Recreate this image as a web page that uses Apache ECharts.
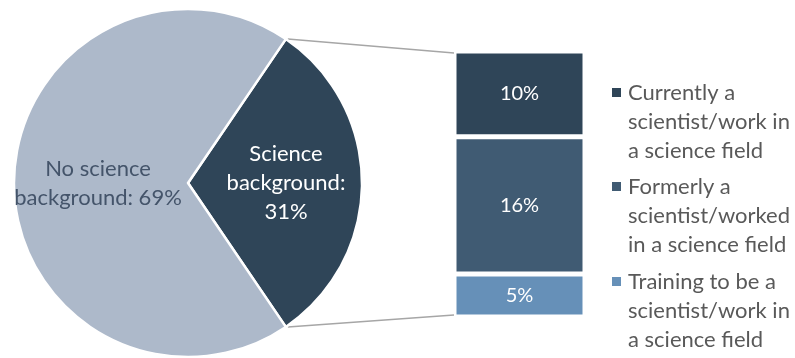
<!DOCTYPE html>
<html><head><meta charset="utf-8">
<script src="https://cdn.jsdelivr.net/npm/echarts@6/dist/echarts.min.js"></script>
<style>html,body{margin:0;padding:0;background:#fff}#c{width:795px;height:358px}</style>
</head><body><div id="c"></div>
<script>
const pieNames = ["Science background", "No science background"];
const pieValues = [31, 69];
const barNames = ["Currently a scientist/work in a science field", "Formerly a scientist/worked in a science field", "Training to be a scientist/work in a science field"];
const barLegendLines = [["Currently a", "scientist/work in", "a science field"], ["Formerly a", "scientist/worked", "in a science field"], ["Training to be a", "scientist/work in", "a science field"]];
const barValues = [10, 16, 5];
const barColors = ["#2f4558", "#405b73", "#6690b8"];

const FONT = "Lato";
const cx = 188, cy = 183, R = 174;
const total = pieValues.reduce((a,b)=>a+b,0);
const halfAngle = pieValues[0] / total * 360 / 2;

const chart = echarts.init(document.getElementById('c'), null, {renderer: 'canvas'});

const order = [2, 1, 0];
const barSeries = order.map(i => ({
  name: barNames[i],
  type: 'bar',
  stack: 's',
  barWidth: '100%',
  data: [barValues[i]],
  itemStyle: {color: barColors[i], borderColor: '#fff', borderWidth: 2.5},
  label: {show: true, position: 'inside', formatter: barValues[i] + '%', color: '#fff', fontSize: 20, fontFamily: FONT},
  emphasis: {disabled: true}
}));

const rich = {t: {fontSize: 22, lineHeight: 29, color: '#595959', fontFamily: FONT, padding: [0,0,0,7]},
              s: {width: 9}};
barColors.forEach((c, i) => { rich['q' + i] = {width: 9, height: 9, backgroundColor: c}; });

const legendTops = [78, 172, 267];
const legends = barNames.map((n, i) => ({
  orient: 'vertical', left: 607, top: legendTops[i], padding: 0,
  itemWidth: 0, itemHeight: 0, icon: 'none',
  data: [{name: n, icon: 'none'}],
  formatter: nm => {
    const k0 = barNames.indexOf(nm);
    return barLegendLines[k0].map((l, k) => (k === 0 ? '{q' + k0 + '|}' : '{s|}') + '{t|' + l + '}').join('\n');
  },
  textStyle: {fontSize: 22, lineHeight: 29, color: '#595959', fontFamily: FONT, rich: rich, padding: 0},
  selectedMode: false
}));

const option = {
  animation: false,
  textStyle: {fontFamily: FONT},
  grid: {left: 454, width: 131, top: 51, height: 266},
  xAxis: {type: 'category', data: ['s'], show: false},
  yAxis: {type: 'value', min: 0, max: barValues.reduce((a,b)=>a+b,0), show: false},
  legend: legends,
  series: [
    {
      type: 'pie',
      center: [cx, cy],
      radius: R,
      startAngle: halfAngle,
      clockwise: true,
      emphasis: {disabled: true},
      labelLine: {show: false},
      data: pieNames.map((n, i) => ({
        name: n, value: pieValues[i],
        itemStyle: {color: i === 0 ? '#2f4558' : '#adb9ca', borderColor: '#fff', borderWidth: 2.5},
        label: {
          show: true, position: 'inside',
          color: i === 0 ? '#fff' : '#44546a',
          fontSize: 22, lineHeight: 29, fontFamily: FONT,
          offset: i === 0 ? [8, 0] : [0, 0],
          formatter: i === 0 ? 'Science\nbackground:\n' + pieValues[i] + '%' : 'No science\nbackground: ' + pieValues[i] + '%'
        }
      }))
    },
    ...barSeries
  ]
};
chart.setOption(option);

const a = halfAngle * Math.PI / 180;
const pTop = [cx + R * Math.cos(a), cy - R * Math.sin(a)];
const pBot = [cx + R * Math.cos(a), cy + R * Math.sin(a)];
const sum = barValues.reduce((x,y)=>x+y,0);
const topY = chart.convertToPixel({gridIndex: 0}, [0, sum])[1];
const botY = chart.convertToPixel({gridIndex: 0}, [0, 0])[1];
const leftX = 454;
chart.setOption({
  graphic: [
    {type: 'line', shape: {x1: pTop[0] + 2, y1: pTop[1], x2: leftX, y2: topY + 2}, style: {stroke: '#a6a6a6', lineWidth: 1.5}},
    {type: 'line', shape: {x1: pBot[0] + 2, y1: pBot[1], x2: leftX, y2: botY - 2}, style: {stroke: '#a6a6a6', lineWidth: 1.5}}
  ]
});
</script></body></html>
